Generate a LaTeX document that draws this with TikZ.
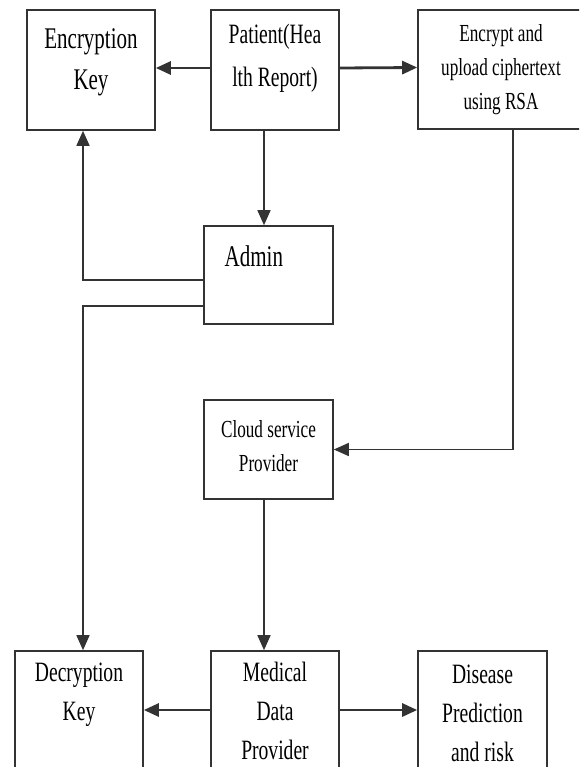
\documentclass[tikz,border=0pt]{standalone}
\usepackage{fontspec}
\setmainfont{Liberation Serif}[FakeStretch=0.7]
\usetikzlibrary{arrows.meta}

\definecolor{lineclr}{gray}{0.2}

\tikzset{
  block/.style={draw=lineclr, line width=1.6pt, fill=white, inner sep=0pt,
    minimum width=128pt, minimum height=120pt},
  txt/.style={align=center, text=black, font=\fontsize{28}{39}\selectfont},
  large/.style={font=\fontsize{30}{41}\selectfont},
  small/.style={font=\fontsize{24.5}{34}\selectfont},
  link/.style={draw=lineclr, line width=1.5pt, -{Triangle[length=15pt,width=13pt]}},
  wide/.style={line width=2.8pt},
}

\begin{document}
\begin{tikzpicture}[x=1pt, y=-1pt]
  \useasboundingbox (0,0) rectangle (579,767);
  \clip (0,0) rectangle (579,767);

  % top row
  \node[block, label={[txt, large, yshift=7.5pt]center:{Encryption\\Key}}]
    (enckey) at (91,70) {};
  \node[block, label={[txt, font=\fontsize{28}{43}\selectfont, yshift=11.5pt]center:{Patient(Hea\\lth Report)}}]
    (patient) at (275,70) {};
  \node[block, minimum width=166pt, minimum height=119pt,
    label={[txt, small]center:{Encrypt and\\upload ciphertext\\using RSA}}]
    (upload) at (501,69.5) {};

  % middle column
  \node[block, minimum width=129pt, minimum height=98pt,
    label={[txt, large, anchor=base west, xshift=18pt, yshift=-41pt]north west:Admin}]
    (admin) at (268.5,275) {};
  \node[block, minimum width=129pt, minimum height=99pt,
    label={[txt, small, yshift=3pt]center:{Cloud service\\Provider}}]
    (cloud) at (268.5,449.5) {};

  % bottom row
  \node[block, label={[txt, yshift=16.5pt]center:{Decryption\\Key}}]
    (deckey) at (79,711) {};
  \node[block, label={[txt]center:{Medical\\Data\\Provider}}]
    (medical) at (275,711) {};
  \node[block, minimum width=129pt, label={[txt, yshift=-2pt]center:{Disease\\Prediction\\and risk}}]
    (disease) at (482.5,711) {};

  % connectors
  \draw[link, wide] ([yshift=2pt]patient.west) -- ([yshift=2pt]enckey.east);
  \draw[link, wide] ([yshift=2pt]patient.east) -- ([yshift=2pt]upload.west);
  \draw[link] ([xshift=-11pt]patient.south) -- ([xshift=-11pt]patient.south |- admin.north);
  \draw[link] ([yshift=-5pt]admin.west) -| ([xshift=-8pt]enckey.south);
  \draw[link] ([yshift=-31pt]admin.west) -| ([xshift=4pt]deckey.north);
  \draw[link] ([xshift=12pt]upload.south) |- (cloud.east);
  \draw[link] ([xshift=-4.5pt]cloud.south) -- ([xshift=-4.5pt]cloud.south |- medical.north);
  \draw[link, wide] ([yshift=1pt]medical.west) -- ([yshift=1pt]deckey.east);
  \draw[link, wide] ([yshift=1pt]medical.east) -- ([yshift=1pt]disease.west);
\end{tikzpicture}
\end{document}
